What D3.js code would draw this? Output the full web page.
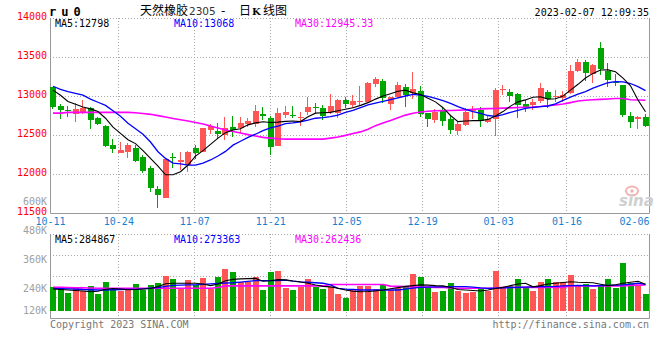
<!DOCTYPE html>
<html><head><meta charset="utf-8">
<script src="https://cdn.jsdelivr.net/npm/d3@7"></script>
<style>
html,body{margin:0;padding:0;background:#fff;}
svg{display:block;}
</style></head><body>
<svg id="c" width="660" height="360"></svg>
<script>
// ---------------- DATA ----------------
const tickIdx = [0, 9, 19, 29, 39, 49, 59, 68, 78];
const tickLabels = ["10-11","10-24","11-07","11-21","12-05","12-19","01-03","01-16","02-06"];
const priceTicks = [11500, 12000, 12500, 13000, 13500, 14000];
const volTicks = [120000, 240000, 360000, 480000, 600000];

const opens = [13110,12872,12822,12765,12778,12846,12722,12620,12372,12270,
12282,12333,12214,12081,11808,11696,12214,12158,12115,12333,
12286,12568,12551,12496,12603,12594,12641,12641,12769,12722,
12363,12756,12756,12714,12791,12855,12850,12791,12778,12949,
12885,12923,12927,13158,13192,12902,12987,13120,13034,13068,
12778,12692,12816,12705,12551,12628,12808,12820,12671,12705,
13073,13051,13026,12897,12885,12936,13051,12987,12970,13034,
13321,13436,13278,13611,13325,13184,13141,12744,12701,12726];
const highs = [13120,12893,12876,12915,12949,12863,12735,12628,12449,12415,
12393,12367,12244,12102,11850,12200,12273,12278,12290,12367,
12595,12637,12654,12735,12744,12726,12718,12885,12859,12740,
12842,12872,12872,12791,12991,12906,12885,13026,12962,12991,
13013,13128,13184,13244,13218,12990,13184,13150,13312,13128,
12780,12829,12863,12756,12679,12842,12872,12863,12744,13103,
13141,13085,13034,12949,12957,13162,13077,13077,13068,13397,
13470,13462,13405,13692,13419,13282,13145,12799,12744,12765];
const lows = [12835,12705,12735,12667,12770,12577,12628,12342,12269,12265,
12209,12154,12013,11769,11568,11690,12073,12051,12030,12188,
12280,12513,12449,12436,12470,12521,12607,12607,12692,12245,
12360,12722,12722,12620,12756,12778,12692,12765,12722,12842,
12842,12885,12920,13120,12915,12816,12979,12863,12962,12731,
12603,12658,12620,12513,12500,12615,12701,12607,12650,12491,
13013,12927,12722,12799,12820,12915,12850,12927,12927,13026,
13308,13197,13171,13269,13120,13128,12735,12594,12577,12607];
const closes = [12865,12825,12810,12833,12846,12692,12641,12363,12322,12312,
12372,12171,12043,11825,11731,12192,12203,12179,12282,12269,
12590,12615,12513,12594,12560,12650,12679,12812,12750,12350,
12786,12799,12740,12735,12863,12840,12748,12872,12949,12897,
12936,12940,13171,13218,12970,12987,13141,13013,13094,12773,
12709,12795,12684,12564,12641,12799,12820,12679,12701,13077,
13085,13000,12885,12863,12927,13103,12962,13000,13013,13321,
13436,13299,13402,13342,13205,13171,12756,12671,12731,12620];

const ma5 = [13075,13010,12930,12895,12860,12835,12800,12715,12600,12520,
12440,12390,12300,12200,12100,11990,11990,12030,12115,12230,
12300,12380,12460,12530,12565,12580,12630,12655,12670,12660,
12665,12675,12680,12672,12735,12780,12785,12790,12810,12830,
12850,12880,12915,12960,13000,13030,13060,13075,13040,13020,
12970,12925,12850,12750,12671,12680,12684,12684,12700,12745,
12800,12870,12925,12950,12985,12991,12960,12965,13000,13075,
13150,13230,13290,13333,13335,13310,13230,13130,12949,12798];
const ma10 = [13125,13085,13055,13035,13010,12960,12920,12880,12810,12740,
12650,12580,12510,12410,12286,12200,12140,12130,12115,12115,
12140,12180,12230,12290,12370,12420,12470,12510,12555,12590,
12615,12645,12655,12670,12690,12715,12722,12735,12755,12790,
12815,12850,12885,12910,12930,12955,12975,13000,13020,13010,
12995,12970,12940,12905,12863,12830,12800,12778,12750,12740,
12760,12790,12815,12840,12855,12865,12872,12900,12945,12985,
13025,13055,13100,13135,13170,13184,13180,13160,13120,13068];
const ma30 = [12780,12780,12790,12790,12790,12790,12790,12790,12790,12790,
12790,12785,12775,12765,12748,12730,12712,12695,12680,12660,
12640,12615,12590,12565,12545,12525,12505,12487,12470,12460,
12452,12447,12447,12447,12447,12447,12447,12460,12475,12495,
12520,12540,12575,12620,12655,12685,12720,12755,12778,12795,
12805,12810,12812,12815,12818,12822,12830,12835,12838,12840,
12845,12848,12852,12855,12858,12865,12875,12885,12897,12915,
12935,12945,12952,12957,12962,12967,12968,12952,12948,12945.33];

const volumes = [251000,251000,229000,248000,237000,256000,223000,273000,240000,237000,
240000,265000,240000,261000,270000,298000,285000,245000,281000,261000,
290000,245000,295000,327000,316000,274000,274000,292000,240000,316000,
320000,248000,240000,254000,285000,254000,244000,251000,223000,208000,
243000,256000,256000,243000,261000,240000,248000,256000,306000,292000,
248000,232000,236000,269000,236000,228000,233000,247000,236000,319000,
251000,256000,285000,247000,237000,273000,285000,273000,273000,302000,
256000,263000,244000,256000,285000,250000,353000,268000,261000,223000];
const vma5 = [244000,242000,240000,238000,236000,233000,235000,243000,246000,244000,
241000,242000,244000,246000,254000,266000,268000,268000,268000,268000,
265000,258000,265000,278000,284000,286000,287000,288000,276000,278000,
283000,282000,277000,273000,268000,261000,255000,253000,247000,240000,
235000,233000,234000,236000,240000,245000,250000,255000,258000,261000,
260000,258000,257000,250000,242000,240000,238000,236000,240000,246000,
251000,258000,265000,268000,253000,258000,265000,268000,271000,274000,
272000,271000,270000,264000,258000,262000,268000,272000,276000,264000];
const vma10 = [247000,246000,245000,244000,242000,241000,240000,240000,241000,242000,
243000,243000,245000,248000,250000,255000,259000,260000,261000,261000,
263000,265000,267000,269000,270000,273000,276000,279000,279000,279000,
279000,281000,277000,274000,272000,270000,268000,261000,247000,244000,
242000,240000,240000,240000,240000,240000,240000,244000,248000,251000,
252000,253000,253000,254000,254000,254000,252000,249000,247000,248000,
249000,250000,251000,252000,253000,254000,254000,255000,257000,258000,
259000,258000,257000,258000,259000,260000,261000,264000,268000,263000];
const vma30 = [251000,251000,250000,249000,249000,248000,247000,247000,247000,247000,
247000,247000,247000,247000,247000,247000,247000,247000,247000,247000,
247000,247000,250000,257000,257000,257000,257000,257000,257000,257000,
257000,257000,257000,257000,257000,257000,257000,263000,263000,263000,
263000,263000,263000,263000,263000,256000,255000,254000,253000,252000,
252000,251000,251000,248000,247000,247000,247000,247000,247000,247000,
251000,251000,251000,251000,251000,251000,251000,251000,251000,257000,
257000,257000,257000,257000,257000,257000,257000,259000,260000,261000];

const legendPrice = ["MA5:12798", "MA10:13068", "MA30:12945.33"];
const legendVol = ["MA5:284867", "MA10:273363", "MA30:262436"];

// ---------------- DRAW ----------------
const RED = "#ff5555", GREEN = "#00a600";
const MONO = "'DejaVu Sans Mono', 'Liberation Mono', monospace";
const CJK = "'Noto Sans CJK SC', sans-serif";
const svg = d3.select("#c");
const N = closes.length;
const L = 50, Rt = 649, T = 18, B = 213, VT = 234, VB = 318, VBASE = 311;

const xC = d3.scaleLinear().domain([0, 80]).range([50, 650]);   // candle left edges
const xG = d3.scaleLinear().domain([0, 79]).range([50, 650]);   // grid/date positions
const yP = d3.scaleLinear().domain([11500, 14000]).range([B, T]);
const yV = d3.scaleLinear().domain([120000, 480000]).range([319, 232]);
const cx = i => Math.round(xC(i));

// grids
const grid = svg.append("g").attr("stroke", "#a8a8a8").attr("stroke-dasharray", "1,2").attr("stroke-width", 1);
tickIdx.slice(1, 8).forEach(d => {
  const gx = Math.round(xG(d)) + 0.5;
  grid.append("line").attr("x1", gx).attr("x2", gx).attr("y1", T).attr("y2", B);
  grid.append("line").attr("x1", gx).attr("x2", gx).attr("y1", VT).attr("y2", VB);
});
priceTicks.filter(p => p > 11500 && p < 14000).forEach(p => {
  const gy = Math.round(yP(p)) + 0.5;
  grid.append("line").attr("x1", L).attr("x2", Rt).attr("y1", gy).attr("y2", gy);
});
[255, 276, 297].forEach(gy => {
  grid.append("line").attr("x1", L).attr("x2", Rt).attr("y1", gy + 0.5).attr("y2", gy + 0.5);
});
grid.append("line").attr("x1", L).attr("x2", Rt).attr("y1", T + 0.5).attr("y2", T + 0.5);
grid.append("line").attr("x1", L).attr("x2", Rt).attr("y1", VT + 0.5).attr("y2", VT + 0.5);

// solid frame
const fr = svg.append("g").attr("stroke", "#999").attr("stroke-width", 1).attr("fill", "none");
fr.append("path").attr("d", `M${L+0.5},${T}V${B+0.5}H${Rt+0.5}V${T}`);
fr.append("path").attr("d", `M${L+0.5},${VT}V${VB+0.5}H${Rt+0.5}V${VT}`);

// sina watermark
const wm = svg.append("g");
wm.append("ellipse").attr("cx", 632).attr("cy", 191).attr("rx", 6).attr("ry", 4.5)
  .attr("fill", "none").attr("stroke", "#f2b4b4").attr("stroke-width", 2);
wm.append("circle").attr("cx", 632).attr("cy", 191).attr("r", 1.8).attr("fill", "#f2b4b4");
wm.append("text").attr("x", 619).attr("y", 206).text("sina")
  .attr("font-family", "'DejaVu Sans', sans-serif").attr("font-style", "italic").attr("font-weight", "bold")
  .attr("font-size", 15).attr("fill", "#cfcfcf");

// axes
const yAxis = svg.append("g").attr("transform", `translate(47,0)`)
  .call(d3.axisLeft(yP).tickValues(priceTicks).tickSize(0).tickPadding(0).tickFormat(d3.format("d")));
yAxis.select(".domain").remove();
yAxis.selectAll("text").attr("y", -1.5).attr("fill", "#ff0000")
  .attr("font-family", MONO).attr("font-size", 10);

const vAxis = svg.append("g").attr("transform", `translate(47,0)`)
  .call(d3.axisLeft(yV).tickValues(volTicks).tickSize(0).tickPadding(0).tickFormat(d => (d / 1000) + "K"));
vAxis.select(".domain").remove();
vAxis.selectAll("text").attr("y", d => d === 120000 ? -9 : -1.5).attr("fill", "#a0a0a0")
  .attr("font-family", MONO).attr("font-size", 10);

const xAxis = svg.append("g").attr("transform", `translate(0,${B})`)
  .call(d3.axisBottom(xG).tickValues(tickIdx).tickSize(0).tickPadding(5).tickFormat((d, i) => tickLabels[i]));
xAxis.select(".domain").remove();
xAxis.selectAll("text").attr("fill", "#1a7fd0").attr("font-family", MONO).attr("font-size", 10)
  .attr("text-anchor", d => d === 78 ? "end" : "middle")
  .attr("x", d => d === 78 ? (Rt - xG(78)) : 0);

// candles
const cg = svg.append("g");
for (let i = 0; i < N; i++) {
  const up = closes[i] >= opens[i];
  const col = up ? RED : GREEN;
  const x0 = cx(i);
  cg.append("rect").attr("x", x0 + 2).attr("width", 1)
    .attr("y", Math.round(yP(highs[i]))).attr("height", Math.max(1, Math.round(yP(lows[i])) - Math.round(yP(highs[i]))))
    .attr("fill", col);
  const yt = Math.round(yP(Math.max(opens[i], closes[i])));
  const yb = Math.round(yP(Math.min(opens[i], closes[i])));
  cg.append("rect").attr("x", x0).attr("width", 6).attr("y", yt).attr("height", Math.max(1, yb - yt)).attr("fill", col);
}

// volume bars
const vg = svg.append("g");
for (let i = 0; i < N; i++) {
  const up = closes[i] >= opens[i];
  const yt = Math.round(yV(volumes[i]));
  vg.append("rect").attr("x", cx(i)).attr("width", 6).attr("y", yt).attr("height", VBASE - yt)
    .attr("fill", up ? RED : GREEN);
}

// MA lines
const lineP = d3.line().x((d, i) => xC(i) + 3).y(d => yP(d));
const lineV = d3.line().x((d, i) => xC(i) + 3).y(d => yV(d));
const maStyles = [[ma30, "#ff00ff", 1.6], [ma10, "#0000ff", 1.3], [ma5, "#000000", 1.1]];
maStyles.forEach(([arr, c, w]) => svg.append("path").attr("d", lineP(arr)).attr("fill", "none").attr("stroke", c).attr("stroke-width", w));
const vmaStyles = [[vma30, "#ff00ff", 1.6], [vma10, "#0000ff", 1.3], [vma5, "#000000", 1.1]];
vmaStyles.forEach(([arr, c, w]) => svg.append("path").attr("d", lineV(arr)).attr("fill", "none").attr("stroke", c).attr("stroke-width", w));

// legends
const legX = [55, 174, 295], legC = ["#000", "#0000ff", "#ff00ff"];
legendPrice.forEach((t, i) => svg.append("text").attr("x", legX[i]).attr("y", 27).text(t)
  .attr("fill", legC[i]).attr("font-family", MONO).attr("font-size", 10));
legendVol.forEach((t, i) => svg.append("text").attr("x", legX[i]).attr("y", 243).text(t)
  .attr("fill", legC[i]).attr("font-family", MONO).attr("font-size", 10));

// titles
svg.append("text").attr("x", 49).attr("y", 16).text("ru0")
  .attr("font-family", MONO).attr("font-weight", "bold").attr("font-size", 12)
  .attr("letter-spacing", 5).attr("fill", "#000");
const TY = 14.5;
svg.append("text").attr("x", 140).attr("y", TY).text("天然橡胶")
  .attr("font-family", CJK).attr("font-size", 12).attr("fill", "#000");
svg.append("text").attr("x", 189).attr("y", TY).text("2305")
  .attr("font-family", "'DejaVu Sans', sans-serif").attr("font-size", 10.5).attr("fill", "#333");
svg.append("text").attr("x", 221).attr("y", TY).text("-")
  .attr("font-family", "'DejaVu Sans', sans-serif").attr("font-size", 12).attr("fill", "#000");
svg.append("text").attr("x", 239).attr("y", TY).text("日")
  .attr("font-family", CJK).attr("font-size", 12).attr("fill", "#000");
svg.append("text").attr("x", 252).attr("y", TY).text("K")
  .attr("font-family", "'DejaVu Serif', serif").attr("font-weight", "bold").attr("font-size", 10).attr("fill", "#000");
svg.append("text").attr("x", 263).attr("y", TY).text("线图")
  .attr("font-family", CJK).attr("font-size", 12).attr("fill", "#000");

svg.append("text").attr("x", Rt).attr("y", 16).attr("text-anchor", "end").text("2023-02-07 12:09:35")
  .attr("font-family", MONO).attr("font-size", 10).attr("fill", "#000");

svg.append("text").attr("x", L).attr("y", 328).text("Copyright 2023 SINA.COM")
  .attr("font-family", MONO).attr("font-size", 10).attr("fill", "#777");
svg.append("text").attr("x", Rt).attr("y", 328).attr("text-anchor", "end").text("http://finance.sina.com.cn")
  .attr("font-family", MONO).attr("font-size", 10).attr("fill", "#777");
</script>
</body></html>
